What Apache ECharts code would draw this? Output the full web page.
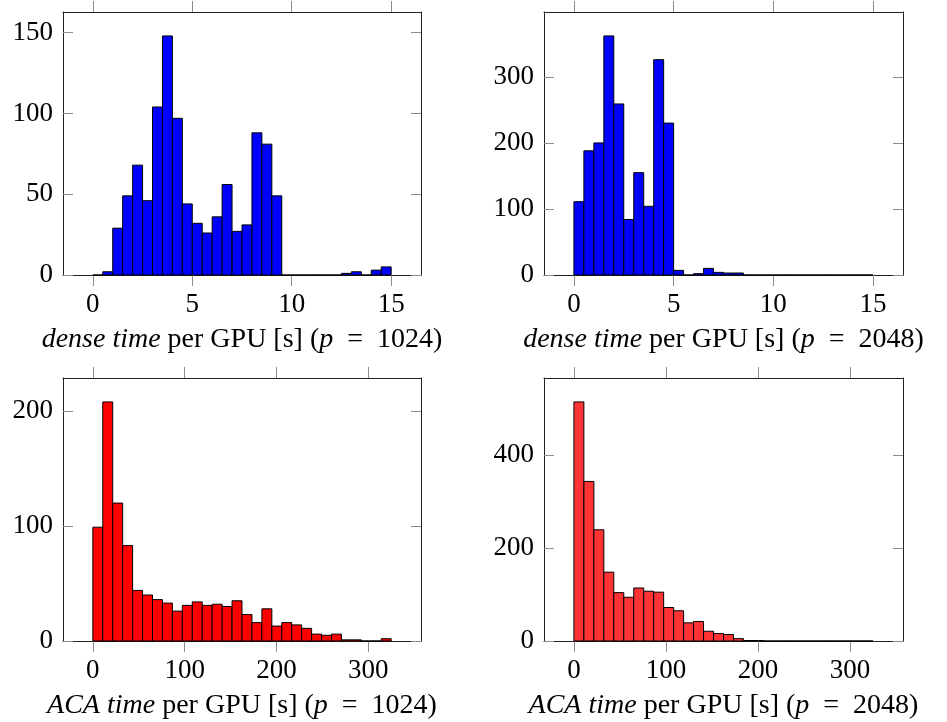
<!DOCTYPE html>
<html>
<head>
<meta charset="utf-8">
<script src="https://cdn.jsdelivr.net/npm/echarts@6/dist/echarts.min.js"></script>
<style>
  html, body { margin: 0; padding: 0; background: #fff; }
  #main { width: 947px; height: 722px; }
</style>
</head>
<body>
<div id="main"></div>
<script>
// histogram counts, 30 equal bins each
const denseCounts1024 = [0, 2, 29, 49, 68, 46, 104, 148, 97, 44, 32, 26, 36, 56, 27, 31, 88, 81, 49, 0, 0, 0, 0, 0, 0, 1, 2, 0, 3, 5];
const denseCounts2048 = [111, 188, 200, 362, 259, 84, 155, 104, 326, 230, 7, 0, 2, 10, 4, 3, 3, 0, 0, 0, 0, 0, 0, 0, 0, 0, 0, 0, 0, 0];
const acaCounts1024 = [99, 208, 120, 83, 44, 40, 36, 33, 26, 31, 34, 31, 32, 30, 35, 23, 16, 28, 13, 16, 14, 11, 6, 5, 6, 1, 1, 0, 0, 2];
const acaCounts2048 = [514, 343, 239, 148, 104, 94, 114, 107, 105, 72, 65, 39, 42, 21, 16, 14, 5, 1, 1, 0, 0, 0, 0, 0, 0, 0, 0, 0, 0, 0];

// bin ranges and tick labels
const denseRange = [0, 15];
const acaRange = [0, 325];
const denseTicks = [0, 5, 10, 15];
const acaTicks = [0, 100, 200, 300];

const panels = [
  { counts: denseCounts1024, range: denseRange, ticks: denseTicks, yStep: 50, color: "#0000ff", what: "dense time", p: "1024",
    grid: { left: 63, top: 12, width: 358, height: 263 } },
  { counts: denseCounts2048, range: denseRange, ticks: denseTicks, yStep: 100, color: "#0000ff", what: "dense time", p: "2048",
    grid: { left: 544, top: 12, width: 359, height: 263 } },
  { counts: acaCounts1024, range: acaRange, ticks: acaTicks, yStep: 100, color: "#ff0000", what: "ACA time", p: "1024",
    grid: { left: 63, top: 378, width: 358, height: 263 } },
  { counts: acaCounts2048, range: acaRange, ticks: acaTicks, yStep: 200, color: "#ff3333", what: "ACA time", p: "2048",
    grid: { left: 544, top: 378, width: 359, height: 263 } }
];

const font = "Liberation Serif";
const lineCol = "#222";
const tickCol = "#8c8c8c";

const grid = [], xAxis = [], yAxis = [], series = [];

panels.forEach((pn, i) => {
  const span = pn.range[1] - pn.range[0];
  const w = span / pn.counts.length;
  const yMax = Math.max(...pn.counts) * 1.1;
  const yVals = [];
  for (let v = 0; v <= yMax; v += pn.yStep) yVals.push(v);

  grid.push(pn.grid);

  // bottom axis with labels
  xAxis.push({
    type: "value", gridIndex: i, position: "bottom",
    min: pn.range[0] - span * 0.1, max: pn.range[1] + span * 0.1,
    splitLine: { show: false },
    axisLine: { onZero: false, lineStyle: { color: lineCol, width: 1 } },
    axisTick: { customValues: pn.ticks, inside: false, length: 11, lineStyle: { color: tickCol } },
    axisLabel: { customValues: pn.ticks, fontFamily: font, fontSize: 27, color: "#000", margin: 16 },
    name: "{it|" + pn.what + "} per GPU [s] ({it|p}  =  " + pn.p + ")",
    nameLocation: "middle", nameGap: 51,
    nameTextStyle: {
      fontFamily: font, fontSize: 28, color: "#000",
      rich: { it: { fontFamily: font, fontSize: 28, fontStyle: "italic", color: "#000" } }
    }
  });
  // top axis (ticks only)
  xAxis.push({
    type: "value", gridIndex: i, position: "top",
    min: pn.range[0] - span * 0.1, max: pn.range[1] + span * 0.1,
    splitLine: { show: false },
    axisLine: { onZero: false, lineStyle: { color: lineCol, width: 1 } },
    axisTick: { customValues: pn.ticks, inside: false, length: 11, lineStyle: { color: tickCol } },
    axisLabel: { show: false }
  });

  yAxis.push({
    type: "value", gridIndex: i, position: "left",
    min: 0, max: yMax,
    splitLine: { show: false },
    axisLine: { show: true, onZero: false, lineStyle: { color: lineCol, width: 1 } },
    axisTick: { customValues: yVals, inside: true, length: 10, lineStyle: { color: tickCol } },
    axisLabel: { customValues: yVals, fontFamily: font, fontSize: 27, color: "#000", margin: 10 }
  });
  yAxis.push({
    type: "value", gridIndex: i, position: "right",
    min: 0, max: yMax,
    splitLine: { show: false },
    axisLine: { show: true, onZero: false, lineStyle: { color: lineCol, width: 1 } },
    axisTick: { customValues: yVals, inside: true, length: 10, lineStyle: { color: tickCol } },
    axisLabel: { show: false }
  });

  const bins = pn.counts.map((c, k) => [pn.range[0] + k * w, pn.range[0] + (k + 1) * w, c]);
  series.push({
    type: "custom",
    xAxisIndex: i * 2,
    yAxisIndex: i * 2,
    data: bins,
    encode: { x: [0, 1], y: 2 },
    renderItem: (params, api) => {
      const a = api.coord([api.value(0), 0]);
      const b = api.coord([api.value(1), api.value(2)]);
      return {
        type: "rect",
        shape: { x: a[0], y: b[1], width: b[0] - a[0], height: a[1] - b[1] },
        style: { fill: pn.color, stroke: "#000", lineWidth: 1 }
      };
    }
  });
});

const chart = echarts.init(document.getElementById("main"));
chart.setOption({
  animation: false,
  grid: grid,
  xAxis: xAxis,
  yAxis: yAxis,
  series: series
});
window.addEventListener("resize", () => chart.resize());
</script>
</body>
</html>
